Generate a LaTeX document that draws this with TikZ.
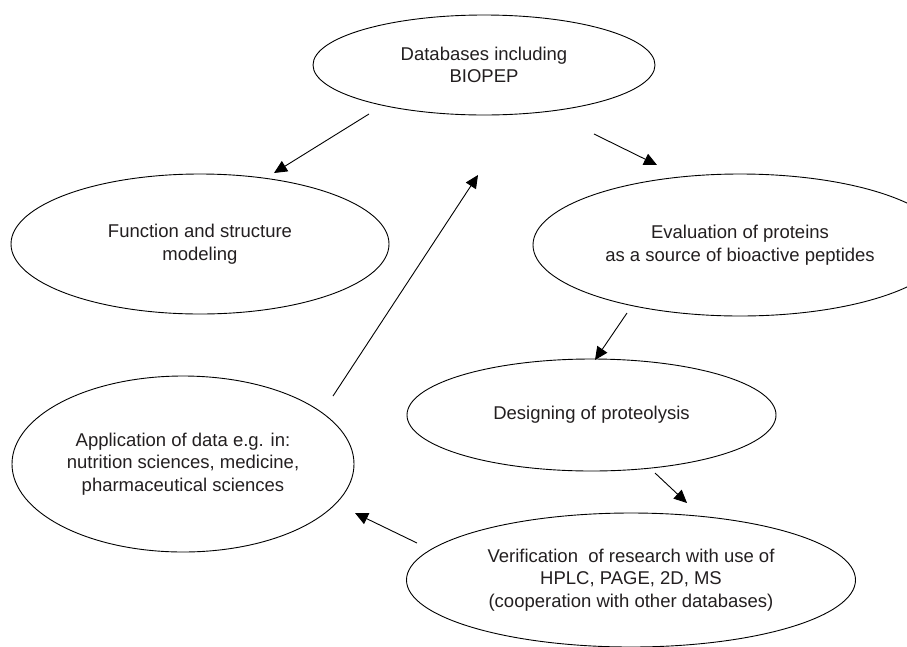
\documentclass[tikz,border=0pt]{standalone}
\usepackage{fontspec}
\setmainfont{Liberation Sans}
\usetikzlibrary{shapes.geometric,arrows.meta}
\definecolor{txt}{HTML}{231F20}
\tikzset{
  bubble/.style={draw=black, line width=0.9pt, ellipse, inner sep=0pt, align=center,
    text=txt, font=\fontsize{18.5}{22.5}\selectfont},
  flow/.style={draw=black, line width=0.9pt, -{Triangle[length=13pt,width=12pt]}}
}
\begin{document}
\begin{tikzpicture}[x=1pt,y=-1pt]
\useasboundingbox (0,0) rectangle (907,646);
\clip (0,0) rectangle (907,646);
\fill[white] (0,0) rectangle (907,646);
\node[bubble, minimum width=342pt, minimum height=100pt] (db) at (484,65)
  {Databases including\\BIOPEP};
\node[bubble, minimum width=378pt, minimum height=140pt] (fs) at (200,244)
  {Function and structure\\modeling};
\node[bubble, minimum width=414pt, minimum height=142pt] (ev) at (740,245)
  {Evaluation of proteins\\as a source of bioactive peptides};
\node[bubble, minimum width=369pt, minimum height=112pt] (dp) at (591.5,415)
  {Designing of proteolysis};
\node[bubble, minimum width=342pt, minimum height=176pt] (ap) at (183,464)
  {Application of data e.g. in:\\nutrition sciences, medicine,\\pharmaceutical sciences};
\node[bubble, minimum width=449pt, minimum height=134pt] (ve) at (631,580)
  {Verification\ \ of research with use of\\HPLC, PAGE, 2D, MS\\(cooperation with other databases)};
\coordinate (a1s) at (369,114); \coordinate (a1e) at (274,173);
\coordinate (a2s) at (594,134); \coordinate (a2e) at (657,165);
\coordinate (a3s) at (333,396); \coordinate (a3e) at (478,175);
\coordinate (a4s) at (627,313); \coordinate (a4e) at (595,360);
\coordinate (a5s) at (655,473); \coordinate (a5e) at (687,503);
\coordinate (a6s) at (417,543); \coordinate (a6e) at (355,513);
\draw[flow] (a1s) -- (a1e);
\draw[flow] (a2s) -- (a2e);
\draw[flow] (a3s) -- (a3e);
\draw[flow] (a4s) -- (a4e);
\draw[flow] (a5s) -- (a5e);
\draw[flow] (a6s) -- (a6e);
\end{tikzpicture}
\end{document}
